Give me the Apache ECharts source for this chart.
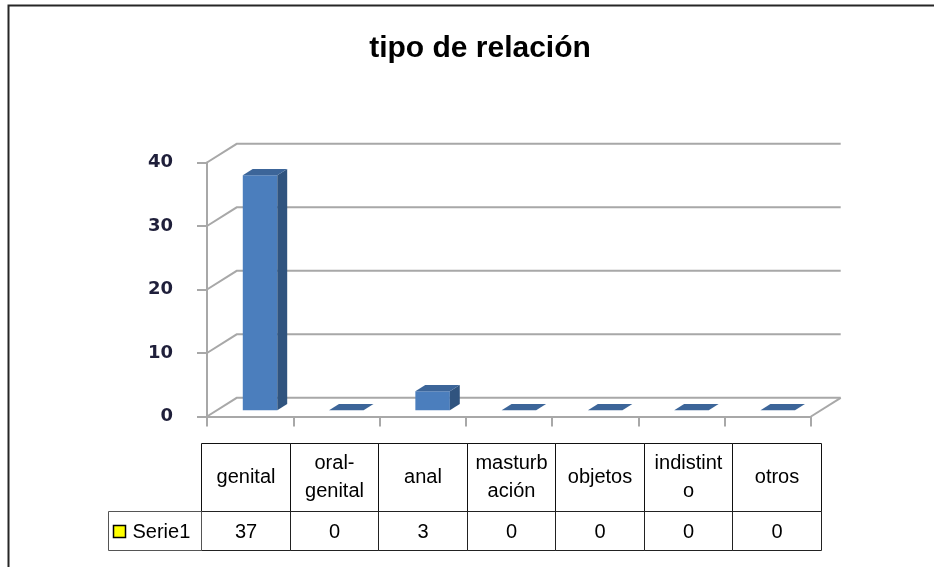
<!DOCTYPE html>
<html><head><meta charset="utf-8">
<script src="https://cdn.jsdelivr.net/npm/echarts@6/dist/echarts.min.js"></script>
<style>html,body{margin:0;padding:0;background:#fff}#c{width:934px;height:567px}</style>
</head><body><div id="c"></div>
<script>
const titleText = 'tipo de relación';
const seriesName = 'Serie1';
const categories = ['genital', 'oral-genital', 'anal', 'masturbación', 'objetos', 'indistinto', 'otros'];
const headerLabels = ['genital', 'oral-\ngenital', 'anal', 'masturb\nación', 'objetos', 'indistint\no', 'otros'];
const values = [37, 0, 3, 0, 0, 0, 0];
const yTicks = [0, 10, 20, 30, 40];

// 3D look (style constants)
const DEPTH = [29.7, -18.7];
const BAR_D0 = 1 / 3, BAR_D1 = 2 / 3;
const BAR_W = 0.40;
const HEADER_H = 68;
const LEGEND_W = 94;
const GRID_COLOR = '#a8a8a8';
const TABLE_FONT = '20px "Liberation Sans", Arial, sans-serif';

const chart = echarts.init(document.getElementById('c'), null, { renderer: 'canvas' });
const cr = v => Math.round(v) + 0.5;

function renderWalls(params, api) {
  const v = yTicks[params.dataIndex];
  const band = api.size([1, 0])[0];
  const pL = api.coord([0, v]);
  const pR = api.coord([categories.length - 1, v]);
  const xl = pL[0] - band / 2, xr = pR[0] + band / 2, y = pL[1];
  const children = [{
    type: 'polyline',
    shape: { points: [[xl, y], [xl + DEPTH[0], y + DEPTH[1]], [xr + DEPTH[0], y + DEPTH[1]]] },
    style: { stroke: GRID_COLOR, lineWidth: 2, fill: null }
  }];
  if (v === 0) {
    children.push({
      type: 'line',
      shape: { x1: xr, y1: y, x2: xr + DEPTH[0], y2: y + DEPTH[1] },
      style: { stroke: GRID_COLOR, lineWidth: 2 }
    });
  }
  return { type: 'group', children };
}

function renderBar(params, api) {
  const i = api.value(0), v = api.value(1);
  const band = api.size([1, 0])[0];
  const top = api.coord([i, v]);
  const base = api.coord([i, 0]);
  const w = band * BAR_W;
  const ox = DEPTH[0] * BAR_D0, oy = DEPTH[1] * BAR_D0;
  const dx = DEPTH[0] * (BAR_D1 - BAR_D0), dy = DEPTH[1] * (BAR_D1 - BAR_D0);
  const xl = top[0] - w / 2 + ox, xr = top[0] + w / 2 + ox;
  const yt = top[1] + oy, yb = base[1] + oy;
  const children = [];
  if (yb - yt > 0.5) {
    children.push({ type: 'rect', shape: { x: xl, y: yt, width: w, height: yb - yt }, style: { fill: '#4b7ebd' } });
    children.push({ type: 'polygon', shape: { points: [[xr, yt], [xr + dx, yt + dy], [xr + dx, yb + dy], [xr, yb]] }, style: { fill: '#30547f' } });
  }
  children.push({ type: 'polygon', shape: { points: [[xl, yt], [xr, yt], [xr + dx, yt + dy], [xl + dx, yt + dy]] }, style: { fill: '#3c6599' } });
  return { type: 'group', children };
}

function renderTable(params, api) {
  const i = api.value(0);
  const cs = params.coordSys;
  const band = api.size([1, 0])[0];
  const c = api.coord([i, 0]);
  const x0 = cr(c[0] - band / 2), x1 = cr(c[0] + band / 2);
  const y0 = cr(cs.y), y1 = cr(cs.y + HEADER_H), y2 = cr(cs.y + cs.height);
  const cx = (x0 + x1) / 2;
  const children = [
    { type: 'rect', shape: { x: x0, y: y0, width: x1 - x0, height: y1 - y0 }, style: { fill: null, stroke: '#111', lineWidth: 1 } },
    { type: 'rect', shape: { x: x0, y: y1, width: x1 - x0, height: y2 - y1 }, style: { fill: null, stroke: '#222', lineWidth: 1 } },
    { type: 'text', style: { text: headerLabels[i], x: cx, y: (y0 + y1) / 2, align: 'center', verticalAlign: 'middle', font: TABLE_FONT, lineHeight: 28, fill: '#000' } },
    { type: 'text', style: { text: String(values[i]), x: cx, y: (y1 + y2) / 2 + 1, align: 'center', verticalAlign: 'middle', font: TABLE_FONT, fill: '#000' } }
  ];
  if (i === 0) {
    const lx = cr(x0 - LEGEND_W);
    const ym = (y1 + y2) / 2;
    children.push({ type: 'rect', shape: { x: lx, y: y1, width: x0 - lx, height: y2 - y1 }, style: { fill: null, stroke: '#555', lineWidth: 1 } });
    children.push({ type: 'rect', shape: { x: lx + 5, y: cr(ym - 6), width: 12, height: 12 }, style: { fill: '#ffff00', stroke: '#000', lineWidth: 1.5 } });
    children.push({ type: 'text', style: { text: seriesName, x: lx + 24, y: ym + 1, align: 'left', verticalAlign: 'middle', font: TABLE_FONT, fill: '#000' } });
  }
  return { type: 'group', children };
}

chart.setOption({
  backgroundColor: '#fff',
  animation: false,
  title: {
    text: titleText, left: 475, top: 29, textAlign: 'center',
    textStyle: { fontFamily: '"Liberation Sans", Arial, sans-serif', fontWeight: 'bold', fontSize: 30, color: '#000' }
  },
  graphic: [{
    type: 'rect', shape: { x: 8.5, y: 5.5, width: 1000, height: 1000 },
    style: { fill: null, stroke: '#262626', lineWidth: 2 }, silent: true
  }],
  grid: [
    { left: 207, right: 123, top: 162.5, bottom: 150.5 },
    { left: 201, right: 113, top: 443, height: 107 }
  ],
  xAxis: [
    {
      type: 'category', data: categories, gridIndex: 0, boundaryGap: true,
      axisLine: { lineStyle: { color: GRID_COLOR, width: 2 } },
      axisTick: { show: true, interval: 0, length: 10, lineStyle: { color: GRID_COLOR, width: 2 } },
      axisLabel: { show: false }, splitLine: { show: false }
    },
    { type: 'category', data: categories, gridIndex: 1, show: false }
  ],
  yAxis: [
    {
      type: 'value', gridIndex: 0, min: 0, max: 40, interval: 10,
      axisLine: { show: true, lineStyle: { color: GRID_COLOR, width: 2 } },
      axisTick: { show: true, length: 10, lineStyle: { color: GRID_COLOR, width: 2 } },
      axisLabel: { margin: 34, padding: [4, 0, 0, 0], fontFamily: '"DejaVu Sans", sans-serif', fontWeight: 'bold', fontSize: 18, color: '#1f1f3a' },
      splitLine: { show: false }
    },
    { type: 'value', gridIndex: 1, min: 0, max: 1, show: false }
  ],
  series: [
    { type: 'custom', name: 'walls', xAxisIndex: 0, yAxisIndex: 0, z: 1, silent: true,
      renderItem: renderWalls, data: yTicks.map(v => [0, v]) },
    { type: 'custom', name: seriesName, xAxisIndex: 0, yAxisIndex: 0, z: 3,
      renderItem: renderBar, data: values.map((v, i) => [i, v]) },
    { type: 'custom', name: 'table', xAxisIndex: 1, yAxisIndex: 1, z: 3, silent: true,
      renderItem: renderTable, data: values.map((v, i) => [i, v]) }
  ]
});
</script>
</body></html>
